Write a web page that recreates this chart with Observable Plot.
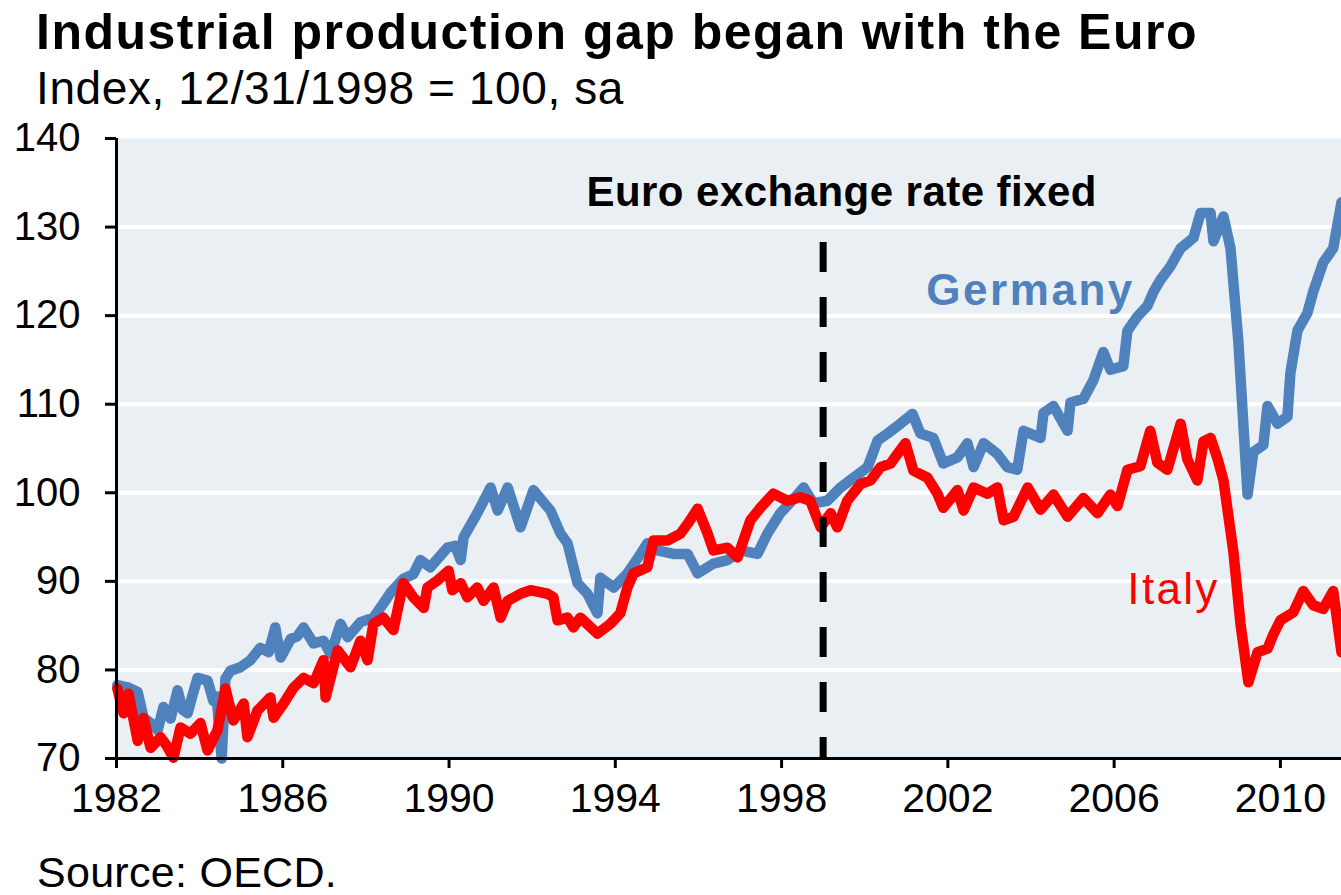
<!DOCTYPE html>
<html>
<head>
<meta charset="utf-8">
<script src="https://cdn.jsdelivr.net/npm/d3@7"></script>
<script src="https://cdn.jsdelivr.net/npm/@observablehq/plot@0.6"></script>
<style>
  html, body { margin: 0; padding: 0; background: #ffffff; width: 1341px; height: 895px; overflow: hidden; }
  body { position: relative; font-family: "Liberation Sans", Arial, sans-serif; color: #000; }
  .txt { position: absolute; white-space: nowrap; line-height: 1; display: inline-block; }
  #title { left: 36px; top: 7px; font-size: 50px; font-weight: bold; }
  #subtitle { left: 36px; top: 65px; font-size: 46px; }
  #source { left: 37px; top: 851px; font-size: 43px; }
  #chart { position: absolute; left: 0; top: 112px; }
</style>
</head>
<body>
<div id="title" class="txt">Industrial production gap began with the Euro</div>
<div id="subtitle" class="txt">Index, 12/31/1998 = 100, sa</div>
<div id="chart"></div>
<div id="source" class="txt">Source: OECD.</div>
<script>
// ---- Data ----
const germanyYear = [1982.02,1982.29,1982.51,1982.65,1982.82,1982.99,1983.13,1983.30,1983.47,1983.59,1983.71,1983.85,1983.95,1984.19,1984.33,1984.41,1984.53,1984.62,1984.74,1984.98,1985.22,1985.46,1985.66,1985.82,1985.95,1986.19,1986.35,1986.50,1986.74,1986.98,1987.15,1987.39,1987.56,1987.87,1988.18,1988.42,1988.59,1988.90,1989.14,1989.31,1989.55,1989.96,1990.15,1990.28,1990.35,1990.68,1991.00,1991.17,1991.41,1991.72,1992.03,1992.44,1992.68,1992.85,1993.09,1993.33,1993.57,1993.64,1993.96,1994.29,1994.61,1994.77,1995.01,1995.40,1995.74,1995.98,1996.36,1996.70,1997.01,1997.42,1997.66,1997.97,1998.29,1998.53,1998.77,1999.10,1999.42,1999.73,2000.07,2000.31,2000.55,2000.86,2001.15,2001.34,2001.65,2001.89,2002.23,2002.47,2002.62,2002.86,2003.19,2003.43,2003.67,2003.82,2004.23,2004.30,2004.54,2004.88,2004.95,2005.26,2005.50,2005.74,2005.91,2006.22,2006.32,2006.56,2006.80,2006.95,2007.11,2007.36,2007.60,2007.91,2008.08,2008.32,2008.39,2008.63,2008.80,2008.99,2009.21,2009.35,2009.59,2009.69,2009.93,2010.17,2010.24,2010.41,2010.65,2010.79,2011.03,2011.27,2011.47];
const germanyIndex = [78.3,78.0,77.5,74.6,74.0,73.2,75.8,74.5,77.7,75.5,75.1,77.5,79.1,78.8,76.5,77.0,70.0,79.0,79.9,80.3,81.1,82.5,82.0,84.8,81.4,83.5,83.8,84.8,83.0,83.3,81.8,85.2,83.7,85.4,85.9,87.5,88.7,90.3,90.8,92.4,91.6,93.8,94.0,92.4,95.0,97.7,100.6,98.0,100.6,96.1,100.3,98.0,95.4,94.3,89.8,88.6,86.4,90.4,89.3,90.9,93.1,94.3,93.5,93.1,93.1,90.9,92.0,92.4,93.5,93.1,95.4,97.7,99.3,100.6,98.8,99.1,100.6,101.7,102.9,105.9,106.7,107.8,108.9,106.7,106.2,103.3,104.0,105.6,102.9,105.6,104.4,102.9,102.6,107.0,106.2,109.0,109.8,107.0,110.2,110.6,112.7,115.9,113.9,114.3,118.3,119.9,121.1,122.7,124.0,125.6,127.6,128.8,131.6,131.6,128.4,131.2,127.6,117.0,99.8,104.6,105.4,109.8,107.8,108.6,113.5,118.3,120.3,122.7,126.0,127.6,132.8];

const italyYear = [1982.02,1982.17,1982.29,1982.51,1982.65,1982.82,1983.06,1983.20,1983.37,1983.54,1983.78,1984.02,1984.19,1984.43,1984.62,1984.81,1985.06,1985.15,1985.39,1985.70,1985.78,1986.02,1986.26,1986.50,1986.74,1986.98,1987.03,1987.32,1987.63,1987.87,1988.04,1988.18,1988.42,1988.66,1988.90,1989.14,1989.39,1989.48,1989.72,1989.99,1990.08,1990.28,1990.44,1990.68,1990.83,1991.07,1991.24,1991.41,1991.72,1991.96,1992.37,1992.51,1992.61,1992.85,1992.99,1993.16,1993.57,1993.88,1994.12,1994.29,1994.44,1994.77,1994.92,1995.25,1995.57,1995.74,1995.98,1996.22,1996.36,1996.70,1996.94,1997.25,1997.49,1997.80,1998.14,1998.45,1998.69,1998.94,1999.18,1999.34,1999.58,1999.90,2000.14,2000.38,2000.62,2000.79,2000.98,2001.17,2001.51,2001.75,2001.89,2002.23,2002.38,2002.62,2002.95,2003.19,2003.34,2003.58,2003.92,2004.23,2004.54,2004.88,2005.26,2005.60,2005.91,2006.08,2006.32,2006.63,2006.87,2007.04,2007.28,2007.60,2007.76,2008.00,2008.15,2008.32,2008.49,2008.63,2008.87,2009.04,2009.23,2009.45,2009.69,2009.83,2010.00,2010.31,2010.55,2010.79,2011.03,2011.27,2011.47];
const italyIndex = [77.9,75.1,77.3,72.0,74.6,71.2,72.4,71.5,70.1,73.5,72.8,74.0,70.9,73.2,77.9,74.3,76.2,72.4,75.4,76.9,74.6,76.2,78.0,79.1,78.5,81.1,76.9,82.2,80.3,83.3,81.1,85.2,85.9,84.5,89.8,88.2,87.0,89.3,90.1,91.2,89.0,89.8,88.2,89.3,87.8,89.3,85.9,87.8,88.6,89.0,88.6,88.2,85.6,85.9,84.8,85.9,84.1,85.2,86.4,89.3,90.9,91.6,94.6,94.6,95.4,96.5,98.2,95.4,93.5,93.8,92.7,96.9,98.3,99.9,99.1,99.5,99.1,96.1,97.7,96.1,99.1,101.0,101.4,102.9,103.3,104.4,105.6,102.5,101.7,99.9,98.3,100.3,98.0,100.6,99.9,100.6,96.9,97.3,100.6,98.1,99.8,97.3,99.4,97.7,99.8,98.5,102.6,103.0,107.0,103.4,102.6,107.8,103.8,101.4,105.8,106.2,103.8,101.4,93.3,85.2,78.6,82.0,82.4,84.0,85.6,86.5,88.9,87.3,86.9,88.9,82.0];

const xTicks = [1982, 1986, 1990, 1994, 1998, 2002, 2006, 2010];
const yTicks = [70, 80, 90, 100, 110, 120, 130, 140];
const gridValues = [80, 90, 100, 110, 120, 130];
const euroYear = [1999.0];
const seriesNames = ["Germany", "Italy"];
const annotation = ["Euro exchange rate fixed"];

// ---- Build tables ----
const germany = germanyYear.map((t, i) => ({t, v: germanyIndex[i]}));
const italy = italyYear.map((t, i) => ({t, v: italyIndex[i]}));

const BLUE = "#4F81BD";
const RED = "#FF0000";
const FONT = "'Liberation Sans', Arial, sans-serif";

const chart = Plot.plot({
  width: 1341,
  height: 708,
  marginTop: 26,
  marginBottom: 62,
  marginLeft: 116,
  marginRight: 0,
  style: {fontFamily: FONT, background: "transparent", color: "#000", overflow: "visible"},
  x: {domain: [1982, 2011.47]},
  y: {domain: [70, 140]},
  marks: [
    Plot.frame({fill: "#E9EFF3", stroke: null}),
    Plot.ruleY(gridValues, {stroke: "#ffffff", strokeWidth: 4}),
    Plot.line(germany, {x: "t", y: "v", stroke: BLUE, strokeWidth: 10.5}),
    Plot.line(italy, {x: "t", y: "v", stroke: RED, strokeWidth: 10.5}),
    Plot.ruleX(euroYear, {y1: 128.26, y2: 70, stroke: "#000", strokeWidth: 7, strokeDasharray: "30,25", strokeLinecap: "butt"}),
    Plot.ruleX([1982], {stroke: "#000", strokeWidth: 3}),
    Plot.ruleY([70], {stroke: "#000", strokeWidth: 3}),
    Plot.axisY(yTicks, {tickSize: 11, tickPadding: 25, strokeWidth: 3, fontSize: 40, fill: "#000", label: null}),
    Plot.axisX(xTicks, {tickSize: 10, tickPadding: 14, strokeWidth: 3, fontSize: 41, fill: "#000", tickFormat: d => String(d), label: null}),
    Plot.text(annotation, {x: 1999.44, y: 133.9, text: d => d, fontSize: 42, fontWeight: "bold", fill: "#000", lineAnchor: "middle", textAnchor: "middle"}),
    Plot.text([seriesNames[0]], {x: 2003.96, y: 122.8, text: d => d, fontSize: 44, fontWeight: "bold", fill: BLUE, lineAnchor: "middle", textAnchor: "middle"}),
    Plot.text([seriesNames[1]], {x: 2007.40, y: 89.0, text: d => d, fontSize: 44, fill: RED, lineAnchor: "middle", textAnchor: "middle"})
  ]
});
document.getElementById("chart").appendChild(chart);

// Fit label widths to the reference
const targets = {"Euro exchange rate fixed": 510, "Germany": 206, "Italy": 90};
d3.select(chart).selectAll("text").each(function() {
  const t = this.textContent;
  if (targets[t]) {
    this.setAttribute("textLength", targets[t]);
    this.setAttribute("lengthAdjust", "spacing");
  }
});

function fit(id, target) {
  const el = document.getElementById(id);
  const w = el.getBoundingClientRect().width;
  const n = el.textContent.length;
  el.style.letterSpacing = ((target - w) / n) + "px";
}
fit("title", 1162);
fit("subtitle", 588);
fit("source", 300);
</script>
</body>
</html>
